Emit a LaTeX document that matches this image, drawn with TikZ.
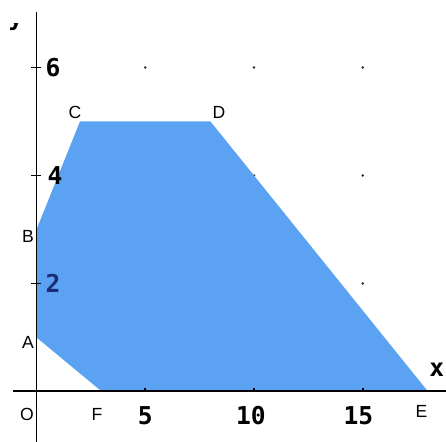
\documentclass[tikz,border=0pt]{standalone}
\usepackage{fontspec}
\setmainfont{Liberation Sans}
\newfontfamily\digitfont{DejaVu Sans Mono}
\definecolor{regionblue}{RGB}{92,162,242}
\definecolor{labelnavy}{RGB}{25,45,120}

\begin{document}
\begin{tikzpicture}[x=0.435cm, y=1.08cm, every node/.style={font=\fontsize{10}{12}\selectfont, inner sep=0pt},
	num/.style={font=\digitfont\bfseries\fontsize{14}{16}\selectfont}]
	\useasboundingbox (-1.678,-0.935) rectangle (18.83,7.25);
	% grid dots
	\foreach \gx in {5,10,15}
		\foreach \gy in {2,4,6}
			\fill[black!85] (\gx,\gy) circle[radius=0.8pt];
	% feasible region
	\coordinate (A) at (0,1);
	\coordinate (B) at (0,3);
	\coordinate (C) at (2,5);
	\coordinate (D) at (8,5);
	\coordinate (E) at (18,0);
	\coordinate (F) at (3,0);
	\fill[regionblue] (A) -- (B) -- (C) -- (D) -- (E) -- (F) -- cycle;
	% axes
	\draw[line width=1.1pt] (-1.08,0) -- (18.83,0);
	\draw[line width=1.1pt] (0,-0.935) -- (0,7.03);
	\foreach \gy in {2,4,6}
		\draw[line width=0.8pt] (-0.23,\gy) -- (0.23,\gy);
	\foreach \gx in {5,10,15}
		\draw[line width=1pt] (\gx,0) -- (\gx,0.06);
	% axis labels
	\node[num] (xlab) at (18.41,0.40) {x};
	\begin{scope}
		\clip (-1.678,-0.935) rectangle (18.83,6.82);
		\node[num, anchor=base] (ylab) at (-0.94,6.77) {y};
	\end{scope}
	% tick labels
	\node[num] (tick6) at (0.76,6) {6};
	\node[num] (tick4) at (0.85,4) {4};
	\node[num, text=labelnavy] (tick2) at (0.76,2) {2};
	\node[num] (tick5) at (5,-0.44) {5};
	\node[num] (tick10) at (9.86,-0.44) {10};
	\node[num] (tick15) at (14.8,-0.44) {15};
	% vertex labels
	\node (labA) at (-0.39,0.90) {A};
	\node (labB) at (-0.39,2.88) {B};
	\node (labC) at (1.77,5.16) {C};
	\node (labD) at (8.39,5.16) {D};
	\node (labE) at (17.7,-0.37) {E};
	\node (labF) at (2.78,-0.42) {F};
	\node (labO) at (-0.44,-0.43) {O};
\end{tikzpicture}
\end{document}
